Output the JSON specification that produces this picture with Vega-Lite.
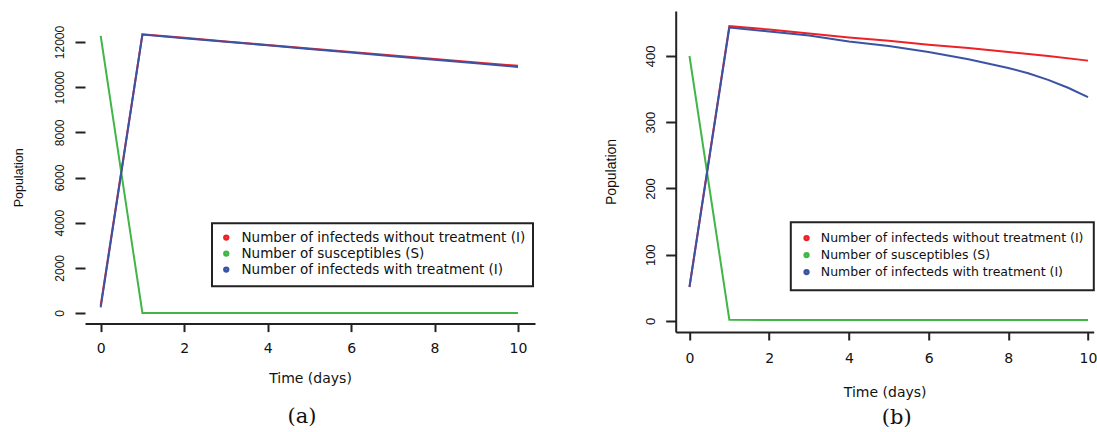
{
  "$schema": "https://vega.github.io/schema/vega-lite/v6.json",
  "padding": {"left": 12, "top": 11, "right": 0, "bottom": 0},
  "bounds": "flush",
  "spacing": 140.7,
  "background": "white",
  "resolve": {"scale": {"color": "independent"}, "legend": {"color": "independent"}},
  "config": {
    "view": {"stroke": null},
    "axis": {"grid": false, "domainColor": "#222", "domainWidth": 2, "tickColor": "#222", "tickWidth": 2, "labelColor": "#111", "titleColor": "#111", "titleFontWeight": "normal", "labelOverlap": false, "labelFlush": false},
    "legend": {"strokeWidth": 2, "strokeColor": "#222"}
  },
  "datasets": {
    "a": [
      {"series": "Number of infecteds without treatment (I)", "t": 0, "v": 330},
      {"series": "Number of infecteds without treatment (I)", "t": 1, "v": 12345},
      {"series": "Number of infecteds without treatment (I)", "t": 2, "v": 12185},
      {"series": "Number of infecteds without treatment (I)", "t": 3, "v": 12025},
      {"series": "Number of infecteds without treatment (I)", "t": 4, "v": 11870},
      {"series": "Number of infecteds without treatment (I)", "t": 5, "v": 11712},
      {"series": "Number of infecteds without treatment (I)", "t": 6, "v": 11555},
      {"series": "Number of infecteds without treatment (I)", "t": 7, "v": 11400},
      {"series": "Number of infecteds without treatment (I)", "t": 8, "v": 11245},
      {"series": "Number of infecteds without treatment (I)", "t": 9, "v": 11095},
      {"series": "Number of infecteds without treatment (I)", "t": 10, "v": 10945},
      {"series": "Number of susceptibles (S)", "t": 0, "v": 12270},
      {"series": "Number of susceptibles (S)", "t": 1, "v": 0},
      {"series": "Number of susceptibles (S)", "t": 2, "v": 0},
      {"series": "Number of susceptibles (S)", "t": 3, "v": 0},
      {"series": "Number of susceptibles (S)", "t": 4, "v": 0},
      {"series": "Number of susceptibles (S)", "t": 5, "v": 0},
      {"series": "Number of susceptibles (S)", "t": 6, "v": 0},
      {"series": "Number of susceptibles (S)", "t": 7, "v": 0},
      {"series": "Number of susceptibles (S)", "t": 8, "v": 0},
      {"series": "Number of susceptibles (S)", "t": 9, "v": 0},
      {"series": "Number of susceptibles (S)", "t": 10, "v": 0},
      {"series": "Number of infecteds with treatment (I)", "t": 0, "v": 250},
      {"series": "Number of infecteds with treatment (I)", "t": 1, "v": 12330},
      {"series": "Number of infecteds with treatment (I)", "t": 2, "v": 12170},
      {"series": "Number of infecteds with treatment (I)", "t": 3, "v": 12010},
      {"series": "Number of infecteds with treatment (I)", "t": 4, "v": 11855},
      {"series": "Number of infecteds with treatment (I)", "t": 5, "v": 11695},
      {"series": "Number of infecteds with treatment (I)", "t": 6, "v": 11535},
      {"series": "Number of infecteds with treatment (I)", "t": 7, "v": 11375},
      {"series": "Number of infecteds with treatment (I)", "t": 8, "v": 11215},
      {"series": "Number of infecteds with treatment (I)", "t": 9, "v": 11055},
      {"series": "Number of infecteds with treatment (I)", "t": 10, "v": 10895}
    ],
    "b": [
      {"series": "Number of infecteds without treatment (I)", "t": 0, "v": 52},
      {"series": "Number of infecteds without treatment (I)", "t": 1, "v": 445},
      {"series": "Number of infecteds without treatment (I)", "t": 2, "v": 440},
      {"series": "Number of infecteds without treatment (I)", "t": 3, "v": 434},
      {"series": "Number of infecteds without treatment (I)", "t": 4, "v": 428},
      {"series": "Number of infecteds without treatment (I)", "t": 5, "v": 423},
      {"series": "Number of infecteds without treatment (I)", "t": 6, "v": 417},
      {"series": "Number of infecteds without treatment (I)", "t": 7, "v": 412},
      {"series": "Number of infecteds without treatment (I)", "t": 8, "v": 406},
      {"series": "Number of infecteds without treatment (I)", "t": 9, "v": 400},
      {"series": "Number of infecteds without treatment (I)", "t": 10, "v": 393},
      {"series": "Number of susceptibles (S)", "t": 0, "v": 400},
      {"series": "Number of susceptibles (S)", "t": 1, "v": 2},
      {"series": "Number of susceptibles (S)", "t": 2, "v": 1.5},
      {"series": "Number of susceptibles (S)", "t": 3, "v": 1.5},
      {"series": "Number of susceptibles (S)", "t": 4, "v": 1.5},
      {"series": "Number of susceptibles (S)", "t": 5, "v": 1.5},
      {"series": "Number of susceptibles (S)", "t": 6, "v": 1.5},
      {"series": "Number of susceptibles (S)", "t": 7, "v": 1.5},
      {"series": "Number of susceptibles (S)", "t": 8, "v": 1.5},
      {"series": "Number of susceptibles (S)", "t": 9, "v": 1.5},
      {"series": "Number of susceptibles (S)", "t": 10, "v": 1.5},
      {"series": "Number of infecteds with treatment (I)", "t": 0, "v": 51},
      {"series": "Number of infecteds with treatment (I)", "t": 1, "v": 443},
      {"series": "Number of infecteds with treatment (I)", "t": 2, "v": 437},
      {"series": "Number of infecteds with treatment (I)", "t": 3, "v": 431},
      {"series": "Number of infecteds with treatment (I)", "t": 4, "v": 422},
      {"series": "Number of infecteds with treatment (I)", "t": 5, "v": 415},
      {"series": "Number of infecteds with treatment (I)", "t": 6, "v": 406},
      {"series": "Number of infecteds with treatment (I)", "t": 7, "v": 395},
      {"series": "Number of infecteds with treatment (I)", "t": 8, "v": 382},
      {"series": "Number of infecteds with treatment (I)", "t": 8.5, "v": 374},
      {"series": "Number of infecteds with treatment (I)", "t": 9, "v": 364},
      {"series": "Number of infecteds with treatment (I)", "t": 9.5, "v": 352},
      {"series": "Number of infecteds with treatment (I)", "t": 10, "v": 338}
    ]
  },
  "hconcat": [
    {
      "width": 450,
      "height": 312.6,
      "data": {"name": "a"},
      "title": {"text": "(a)", "orient": "bottom", "frame": "group", "anchor": "middle", "offset": 21, "dx": -8, "font": "DejaVu Serif", "fontSize": 21, "fontWeight": "normal", "color": "#111"},
      "encoding": {
        "x": {"field": "t", "type": "quantitative",
          "scale": {"domain": [-0.376, 10.407], "nice": false, "zero": false},
          "axis": {"values": [0, 2, 4, 6, 8, 10], "title": "Time (days)", "labelFont": "DejaVu Sans", "labelFontSize": 14, "tickSize": 8, "labelPadding": 9.5, "titleFont": "DejaVu Sans", "titleFontSize": 14, "titlePadding": 16}},
        "y": {"field": "v", "type": "quantitative",
          "scale": {"domain": [-469, 13374], "nice": false, "zero": false},
          "axis": {"values": [0, 2000, 4000, 6000, 8000, 10000, 12000], "format": "d", "domain": false, "title": "Population", "labelAngle": -90, "labelAlign": "center", "labelBaseline": "alphabetic", "labelFont": "Liberation Sans", "labelFontSize": 12, "tickSize": 10, "labelPadding": 11.5, "titleFont": "Liberation Sans", "titleFontSize": 12.5, "titlePadding": 28, "titleY": 166.3}},
        "color": {"field": "series", "type": "nominal",
          "scale": {"domain": ["Number of infecteds without treatment (I)", "Number of susceptibles (S)", "Number of infecteds with treatment (I)"], "range": ["#EC2227", "#40B649", "#3A53A4"]},
          "legend": {"title": null, "orient": "none", "legendX": 127, "legendY": 212.3, "labelFont": "DejaVu Sans", "labelFontSize": 13.5, "labelLimit": 600, "labelColor": "#111", "symbolType": "circle", "symbolSize": 8, "symbolStrokeWidth": 3.5, "labelOffset": 8.5, "rowPadding": -2.5, "padding": 7.5, "strokeColor": "#222"}}
      },
      "layer": [
        {"transform": [{"filter": {"field": "series", "equal": "Number of infecteds without treatment (I)"}}], "mark": {"type": "line", "strokeWidth": 2}},
        {"transform": [{"filter": {"field": "series", "equal": "Number of susceptibles (S)"}}], "mark": {"type": "line", "strokeWidth": 2}},
        {"transform": [{"filter": {"field": "series", "equal": "Number of infecteds with treatment (I)"}}], "mark": {"type": "line", "strokeWidth": 2}},
        {"data": {"values": [{}]}, "mark": {"type": "rule", "strokeWidth": 2, "color": "#222"},
          "encoding": {"x": {"datum": -0.376, "type": "quantitative"}, "y": {"datum": -469, "type": "quantitative"}, "y2": {"datum": 12489}, "color": {"value": "#222"}}}
      ]
    },
    {
      "width": 418,
      "height": 321,
      "data": {"name": "b"},
      "title": {"text": "(b)", "orient": "bottom", "frame": "group", "anchor": "middle", "offset": 8, "dx": 12, "font": "DejaVu Serif", "fontSize": 21, "fontWeight": "normal", "color": "#111"},
      "encoding": {
        "x": {"field": "t", "type": "quantitative",
          "scale": {"domain": [-0.346, 10.143], "nice": false, "zero": false},
          "axis": {"values": [0, 2, 4, 6, 8, 10], "title": "Time (days)", "labelFont": "DejaVu Sans", "labelFontSize": 14, "tickSize": 8, "labelPadding": 11.4, "titleFont": "DejaVu Sans", "titleFontSize": 14, "titlePadding": 20}},
        "y": {"field": "v", "type": "quantitative",
          "scale": {"domain": [-16.6, 467.9], "nice": false, "zero": false},
          "axis": {"values": [0, 100, 200, 300, 400], "format": "d", "title": "Population", "labelAngle": -90, "labelAlign": "center", "labelBaseline": "alphabetic", "labelFont": "Liberation Sans", "labelFontSize": 13, "tickSize": 10, "labelPadding": 11.7, "titleFont": "Liberation Sans", "titleFontSize": 14, "titlePadding": 26}},
        "color": {"field": "series", "type": "nominal",
          "scale": {"domain": ["Number of infecteds without treatment (I)", "Number of susceptibles (S)", "Number of infecteds with treatment (I)"], "range": ["#EC2227", "#40B649", "#3A53A4"]},
          "legend": {"title": null, "orient": "none", "legendX": 115.1, "legendY": 211.3, "labelFont": "DejaVu Sans", "labelFontSize": 12.5, "labelLimit": 600, "labelColor": "#111", "symbolType": "circle", "symbolSize": 8, "symbolStrokeWidth": 3.5, "labelOffset": 8, "rowPadding": -1, "padding": 9.5, "strokeColor": "#222"}}
      },
      "layer": [
        {"transform": [{"filter": {"field": "series", "equal": "Number of infecteds without treatment (I)"}}], "mark": {"type": "line", "strokeWidth": 2}},
        {"transform": [{"filter": {"field": "series", "equal": "Number of susceptibles (S)"}}], "mark": {"type": "line", "strokeWidth": 2}},
        {"transform": [{"filter": {"field": "series", "equal": "Number of infecteds with treatment (I)"}}], "mark": {"type": "line", "strokeWidth": 2}}
      ]
    }
  ]
}
